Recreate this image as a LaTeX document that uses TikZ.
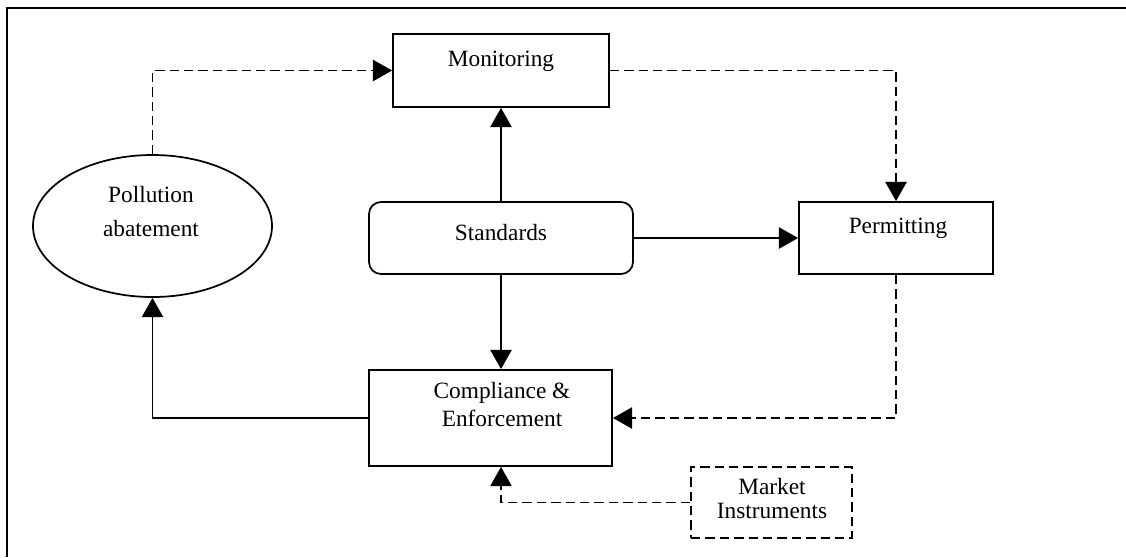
\documentclass[tikz,border=0pt]{standalone}
\usepackage{fontspec}
\setmainfont{Liberation Serif}
\usetikzlibrary{arrows.meta,shapes.geometric}
\begin{document}
\begin{tikzpicture}[x=0.75pt,y=-0.75pt,
  line width=1.3pt,
  box/.style={draw, rectangle, inner sep=0pt},
  dbox/.style={box, dash pattern=on 7pt off 3.8pt},
  lbl/.style={anchor=base, inner sep=0pt, font=\fontsize{17.5}{21}\selectfont},
  flow/.style={-{Triangle[length=14.5pt,width=16pt]}},
  dflow/.style={flow, dash pattern=on 7pt off 3.8pt},
]
\useasboundingbox (0,0) rectangle (1126,557);
% outer frame
\draw (7,557) -- (7,8) -- (1126,8);

% boxes
\node[box, minimum width=162pt, minimum height=54.75pt] (mon) at (501,70.5) {};
\node[box, rounded corners=9pt, minimum width=198pt, minimum height=54pt] (std) at (501,238) {};
\node[box, minimum width=145.5pt, minimum height=54pt] (perm) at (896,238) {};
\node[box, minimum width=182.25pt, minimum height=72pt] (comp) at (490.5,418) {};
\node[dbox, minimum width=120.75pt, minimum height=53.25pt] (mkt) at (771.5,502.5) {};
\node[draw, ellipse, inner sep=0pt, minimum width=179.25pt, minimum height=106.5pt] (poll) at (152.5,226) {};

% labels
\node[lbl] (monT) at (501,66) {Monitoring};
\node[lbl] (stdT) at (501,240) {Standards};
\node[lbl] (permT) at (898,233) {Permitting};
\node[lbl] (compT1) at (502,398) {Compliance \&};
\node[lbl] (compT2) at (502,426) {Enforcement};
\node[lbl] (mktT1) at (772,494) {Market};
\node[lbl] (mktT2) at (772,518) {Instruments};
\node[lbl] (pollT1) at (151,202) {Pollution};
\node[lbl] (pollT2) at (151,236) {abatement};

% connectors
\coordinate (compIn) at (std.south |- comp.north);
\coordinate (compBot) at (std.south |- comp.south);
\draw[flow] (std.north) -- (mon.south);
\draw[flow] (std.east) -- (perm.west);
\draw[flow] (std.south) -- (compIn);
\draw[flow] (comp.west) -| (poll.south);
\draw[dflow] (poll.north) |- (mon.west);
\draw[dflow] (mon.east) -| (perm.north);
\draw[dflow] (perm.south) |- (comp.east);
\draw[dflow] (mkt.west) -| (compBot);
\end{tikzpicture}
\end{document}
